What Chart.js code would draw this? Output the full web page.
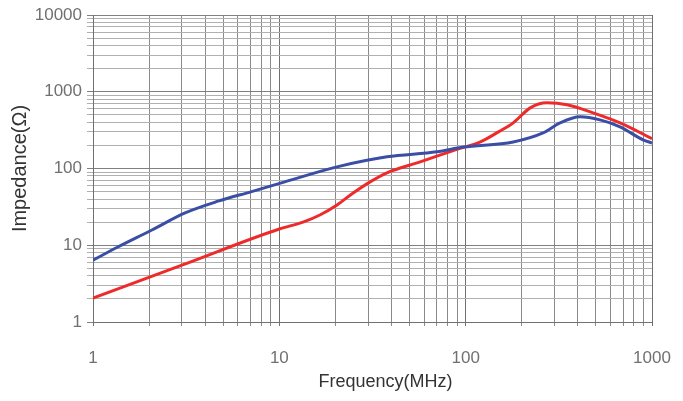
<!DOCTYPE html>
<html>
<head>
<meta charset="utf-8">
<script src="https://cdn.jsdelivr.net/npm/chart.js@4.4.1/dist/chart.umd.min.js"></script>
<style>
html,body{margin:0;padding:0;background:#fff;}
#wrap{width:683px;height:401px;position:relative;}
</style>
</head>
<body>
<div id="wrap"><canvas id="c" width="683" height="401"></canvas></div>
<script>
// Data
const blueFreq = [1, 1.36, 2.07, 3.12, 4.69, 7.1, 10.7, 20.4, 37.8, 70, 97, 180, 260, 321, 411, 526, 674, 896, 1000];
const blueImp  = [6.4, 9.5, 15.8, 26.4, 37.5, 50, 67, 105, 142, 165, 190, 222, 291, 393, 471, 430, 349, 236, 215];
const redFreq  = [1, 3, 10, 13.4, 16.5, 20.4, 24.9, 30.7, 37.8, 57, 88, 120, 150, 180, 222, 273, 350, 483, 674, 1000];
const redImp   = [2.05, 5.5, 16.3, 20, 24.8, 33.5, 48, 67, 88, 122, 175, 222, 300, 393, 617, 717, 676, 531, 393, 245];
const xDecades = [1, 10, 100, 1000];
const yDecades = [1, 10, 100, 1000, 10000];
const xTitle = 'Frequency(MHz)';
const yTitle = 'Impedance(Ω)';

function isPow10(v){ const l = Math.log10(v); return Math.abs(l - Math.round(l)) < 1e-9; }
function logTicks(decades){
  const out = [];
  for (let i = 0; i < decades.length; i++){
    const d = decades[i];
    if (i === decades.length - 1){ out.push(d); break; }
    for (let m = 1; m <= 9; m++) out.push(d * m);
  }
  return out;
}
function pts(xs, ys){ return xs.map((x, i) => ({x: x, y: ys[i]})); }

const family = "'Liberation Sans', Arial, sans-serif";
const tickFont = {family: family, size: 17};

// x-axis title drawn slightly right of centre, as in the reference
const xTitlePlugin = {
  id: 'xTitle',
  afterDraw(chart){
    const a = chart.chartArea, ctx = chart.ctx;
    ctx.save();
    ctx.font = '18px ' + family;
    ctx.fillStyle = '#333';
    ctx.textAlign = 'center';
    ctx.textBaseline = 'middle';
    ctx.fillText(xTitle, (a.left + a.right) / 2 + 13, 382);
    ctx.restore();
  }
};

new Chart(document.getElementById('c'), {
  type: 'line',
  data: {
    datasets: [
      {data: pts(blueFreq, blueImp), borderColor: '#3a4ea6', borderWidth: 3, pointRadius: 0, cubicInterpolationMode: 'monotone', fill: false},
      {data: pts(redFreq, redImp), borderColor: '#ee2a2a', borderWidth: 3, pointRadius: 0, cubicInterpolationMode: 'monotone', fill: false}
    ]
  },
  plugins: [xTitlePlugin],
  options: {
    responsive: false,
    animation: false,
    devicePixelRatio: 1,
    layout: {padding: {top: 15, right: 31, left: 0, bottom: 0}},
    plugins: {legend: {display: false}, tooltip: {enabled: false}},
    scales: {
      x: {
        type: 'logarithmic', min: 1, max: 1000,
        afterBuildTicks: s => { s.ticks = logTicks(xDecades).map(v => ({value: v})); },
        afterFit: s => { s.height = 79; s.paddingLeft = 0; s.paddingRight = 0; },
        ticks: {autoSkip: false, maxRotation: 0, padding: 22, color: '#707070', font: tickFont,
                callback: v => isPow10(v) ? String(v) : ''},
        grid: {color: ctx => isPow10(ctx.tick.value) ? '#707070' : '#8a8a8a', lineWidth: 1, tickLength: 4},
        border: {color: '#707070'},
        title: {display: false}
      },
      y: {
        type: 'logarithmic', min: 1, max: 10000,
        afterBuildTicks: s => { s.ticks = logTicks(yDecades).map(v => ({value: v})); },
        afterFit: s => { s.width = 93; s.paddingTop = 0; s.paddingBottom = 0; },
        ticks: {autoSkip: false, padding: 5, color: '#707070', font: tickFont,
                callback: v => isPow10(v) ? String(v) : ''},
        grid: {color: ctx => isPow10(ctx.tick.value) ? '#808080' : '#b0b0b0', lineWidth: 1, tickLength: 6},
        border: {color: '#707070'},
        title: {display: true, text: yTitle, color: '#333', font: {family: family, size: 20}, padding: {top: 8, bottom: 0}}
      }
    }
  }
});
</script>
</body>
</html>
